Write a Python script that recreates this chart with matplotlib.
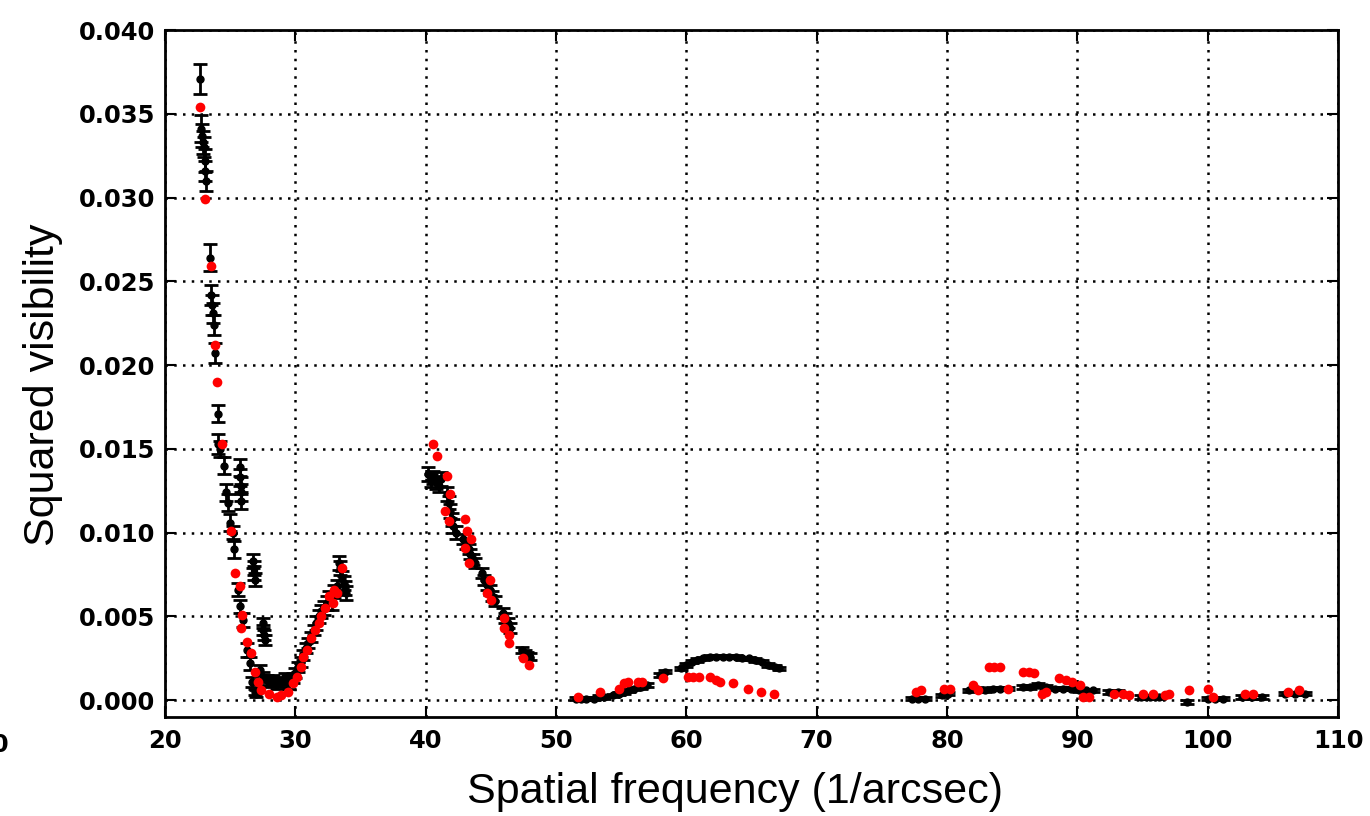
import matplotlib
matplotlib.use("Agg")
import matplotlib.pyplot as plt

# observed squared visibility (black, with error bars)
obs_x = [22.70, 22.80, 22.85, 22.90, 23.00, 23.05, 23.10, 23.15, 23.45, 23.55, 23.60, 23.65, 23.75, 23.85,
         24.05, 24.10, 24.25, 24.50, 24.70, 24.85, 25.00, 25.20, 25.30, 25.60, 25.75, 25.95, 26.30, 26.50,
         26.70, 26.90, 25.75, 25.78, 25.80, 25.83, 25.85, 26.75, 26.80, 26.85, 26.90, 27.50, 27.55, 27.60,
         27.65, 27.30, 27.50, 27.80, 28.00, 28.30, 28.60, 28.90, 29.20, 29.40, 27.00,
         29.50, 29.80, 30.00, 30.20, 30.40, 30.60, 30.80, 31.00, 31.20, 31.40, 31.60, 31.80, 32.00, 32.20,
         32.40, 32.60, 32.80, 33.00, 33.20, 33.35, 33.45, 33.60, 33.70, 33.80, 33.90,
         40.20, 40.40, 40.60, 40.80, 41.00, 41.20, 41.60, 41.80, 41.90, 42.00, 42.10, 42.30, 42.90, 43.10,
         43.30, 43.40, 43.60, 43.80, 44.30, 44.50, 44.70, 44.90, 45.10, 45.30, 45.90, 46.10, 46.30, 46.50,
         47.40, 47.60, 47.80, 48.00,
         51.5, 51.9, 52.3, 52.9, 53.3, 53.7, 54.4, 54.8, 55.2, 55.6, 56.0, 56.5, 57.0, 58.0, 58.4, 59.6,
         60.0, 60.4, 60.8, 61.3, 61.8, 62.3, 62.8, 63.3, 63.8, 64.3, 64.8, 65.3, 65.8, 66.3, 66.8, 67.1,
         77.3, 77.8, 78.3, 79.6, 80.1, 81.7, 82.3, 82.9, 83.5, 84.1, 84.7, 85.8, 86.4, 87.0, 87.6, 88.3,
         88.9, 89.5, 90.1, 90.7, 91.2, 92.4, 93.1, 94.9, 95.6, 96.3, 98.4, 100.0, 100.6, 101.2, 102.6,
         103.4, 104.2, 105.9, 106.7, 107.5]
obs_y = [0.0371, 0.0341, 0.0337, 0.0333, 0.0330, 0.0322, 0.0316, 0.0310, 0.0264, 0.0242, 0.0236, 0.0231,
         0.0224, 0.0207, 0.0171, 0.0153, 0.0150, 0.0140, 0.0124, 0.0118, 0.0106, 0.0100, 0.0090, 0.0066,
         0.0056, 0.0048, 0.0030, 0.0022, 0.0011, 0.0005, 0.0139, 0.0133, 0.0128, 0.0124, 0.0119, 0.0083,
         0.0079, 0.0076, 0.0072, 0.0046, 0.0042, 0.0039, 0.0036, 0.0018, 0.0014, 0.0012, 0.0011, 0.0012,
         0.0010, 0.0011, 0.0013, 0.0012, 0.0004,
         0.0010, 0.0013, 0.0016, 0.0020, 0.0023, 0.0027, 0.0031, 0.0034, 0.0038, 0.0042, 0.0046, 0.0050,
         0.0053, 0.0055, 0.0058, 0.0061, 0.0058, 0.0065, 0.0068, 0.0082, 0.0079, 0.0073, 0.0070, 0.0067,
         0.0064,
         0.0135, 0.0131, 0.0133, 0.0130, 0.0128, 0.0132, 0.0123, 0.0118, 0.0113, 0.0108, 0.0104, 0.0100,
         0.0096, 0.0093, 0.0090, 0.0087, 0.0084, 0.0082, 0.0076, 0.0072, 0.0069, 0.0066, 0.0062, 0.0059,
         0.0052, 0.0049, 0.0046, 0.0043, 0.0030, 0.0028, 0.0027, 0.0026,
         0.0001, 0.0001, 0.0001, 0.0001, 0.0002, 0.0002, 0.0003, 0.0004, 0.0005, 0.0006, 0.0007, 0.0008,
         0.0009, 0.0015, 0.0017, 0.0019, 0.0021, 0.0023, 0.0024, 0.0025, 0.0026, 0.0026, 0.0026, 0.0026,
         0.0026, 0.0025, 0.0025, 0.0024, 0.0023, 0.0021, 0.0020, 0.0019,
         0.0001, 0.0001, 0.0001, 0.0003, 0.0004, 0.0006, 0.0007, 0.0006, 0.0007, 0.0007, 0.0007, 0.0008,
         0.0008, 0.0009, 0.0008, 0.0007, 0.0007, 0.0007, 0.0006, 0.0006, 0.0006, 0.0005, 0.0005, 0.0002,
         0.0002, 0.0002, -0.0001, 0.0001, 0.0001, 0.0001, 0.0002, 0.0002, 0.0002, 0.0004, 0.0004, 0.0004]
obs_err = ([0.0009, 0.0008, 0.0007, 0.0007, 0.0006, 0.0007, 0.0006, 0.0006, 0.0008, 0.0006, 0.0006, 0.0006,
            0.0006, 0.0006, 0.0005, 0.0006, 0.0005, 0.0005, 0.0005, 0.0005, 0.0005, 0.0004, 0.0005, 0.0004,
            0.0004, 0.0004, 0.0004, 0.0004, 0.0003, 0.0002, 0.0005, 0.0005, 0.0005, 0.0005, 0.0005, 0.0004,
            0.0004, 0.0004, 0.0004, 0.0003, 0.0003, 0.0003, 0.0003, 0.0003, 0.0003, 0.0003, 0.0003, 0.0003,
            0.0003, 0.0003, 0.0003, 0.0003, 0.0002]
           + [0.0003] * 10 + [0.0004] * 15
           + [0.0004] * 12 + [0.0003] * 16 + [0.0002] * 4
           + [0.0001] * 32
           + [0.0001] * 36)

# model squared visibility (red)
mod_x = [22.65, 23.10, 23.50, 23.80, 24.00, 24.35, 25.10, 25.40, 25.75, 25.90, 25.85, 26.30, 26.60, 26.90,
         27.10, 27.40, 28.00, 28.60, 28.90, 29.40, 29.80, 30.10, 30.40, 30.60, 30.90, 31.20, 31.50, 31.80,
         32.00, 32.30, 32.60, 32.90, 33.20, 33.60, 33.00,
         40.6, 40.9, 41.6, 41.9, 41.5, 41.8, 43.0, 43.2, 43.5, 43.0, 43.3, 44.9, 44.7, 45.0, 46.0, 46.0,
         46.4, 46.4, 47.5, 47.9,
         51.7, 53.4, 54.8, 55.2, 55.5, 56.3, 56.6, 58.2, 60.1, 60.5, 61.0, 61.8, 62.3, 62.6, 63.6, 64.7,
         65.7, 66.7,
         77.6, 78.0, 79.8, 80.2, 82.0, 82.4, 83.2, 83.6, 84.1, 84.7, 85.8, 86.3, 86.7, 87.3, 87.6, 88.6,
         89.1, 89.6, 90.2, 90.4, 90.9, 92.8, 93.5, 94.0, 95.0, 95.8, 96.7, 97.0, 98.6, 100.0, 100.4, 102.9,
         103.5, 106.2, 107.0]
mod_y = [0.0354, 0.0299, 0.0259, 0.0212, 0.0190, 0.0153, 0.0101, 0.0076, 0.0068, 0.0051, 0.0043, 0.0035,
         0.0028, 0.0017, 0.0011, 0.0006, 0.0004, 0.0002, 0.0003, 0.0005, 0.0010, 0.0014, 0.0020, 0.0026,
         0.0030, 0.0037, 0.0042, 0.0046, 0.0050, 0.0055, 0.0062, 0.0058, 0.0064, 0.0079, 0.0066,
         0.0153, 0.0146, 0.0134, 0.0123, 0.0113, 0.0107, 0.0108, 0.0101, 0.0096, 0.0091, 0.0082, 0.0072,
         0.0064, 0.0060, 0.0049, 0.0043, 0.0039, 0.0034, 0.0025, 0.0021,
         0.0002, 0.0005, 0.0007, 0.0010, 0.0011, 0.0011, 0.0011, 0.0013, 0.0014, 0.0014, 0.0014, 0.0014,
         0.0012, 0.0011, 0.0010, 0.0007, 0.0005, 0.0004,
         0.0005, 0.0006, 0.0007, 0.0007, 0.0009, 0.0006, 0.0020, 0.0020, 0.0020, 0.0007, 0.0017, 0.0017,
         0.0016, 0.0004, 0.0005, 0.0013, 0.0012, 0.0011, 0.0009, 0.0002, 0.0002, 0.0004, 0.0004, 0.0003,
         0.0004, 0.0004, 0.0003, 0.0004, 0.0006, 0.0007, 0.0002, 0.0004, 0.0004, 0.0005, 0.0006]

x_ticks = [20, 30, 40, 50, 60, 70, 80, 90, 100, 110]
y_ticks = [0.000, 0.005, 0.010, 0.015, 0.020, 0.025, 0.030, 0.035, 0.040]

fig = plt.figure(figsize=(13.7, 8.16), dpi=100)
ax = fig.add_axes([165/1370, 99/816, 1173/1370, 687/816])

ax.errorbar(obs_x, obs_y, yerr=obs_err, fmt='o', color='black', markersize=5,
            elinewidth=2, capsize=5, capthick=2, zorder=3)
ax.plot(mod_x, mod_y, 'o', color='red', markersize=7, markeredgewidth=0, zorder=4)

ax.set_xlim(20, 110)
ax.set_ylim(-0.001, 0.040)
ax.set_xticks(x_ticks)
ax.set_yticks(y_ticks)
ax.set_yticklabels(['%.3f' % v for v in y_ticks])
ax.grid(True, linestyle=(0, (1, 2.5)), color='black', linewidth=1.8)

ax.tick_params(direction='in', top=True, right=True, length=8, width=1.5,
               labelsize=17.5)
ax.tick_params(axis='x', pad=9)
ax.tick_params(axis='y', pad=7)
for lab in ax.get_xticklabels() + ax.get_yticklabels():
    lab.set_fontweight('bold')
for s in ax.spines.values():
    s.set_linewidth(2)

ax.set_xlabel('Spatial frequency (1/arcsec)', fontsize=31, family='Liberation Sans')
ax.set_ylabel('Squared visibility', fontsize=31, family='Liberation Sans')
ax.xaxis.set_label_coords(0.486, -0.08)
ax.yaxis.set_label_coords(-0.087, 0.483)

# clipped tick label from a neighbouring panel
fig.text(9/1370, 1 - 745/816, '10', fontsize=17.5, fontweight='bold', ha='right', va='center')

fig.savefig('out.png', dpi=100)
